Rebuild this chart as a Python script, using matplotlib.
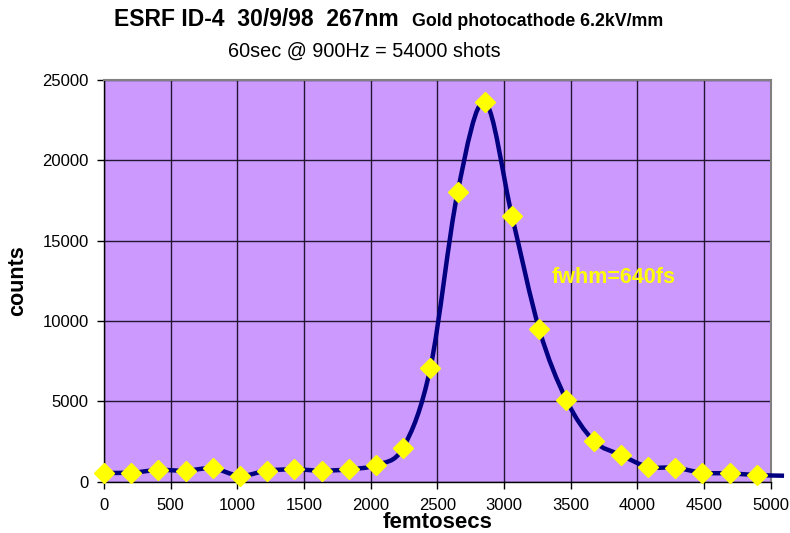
import numpy as np
import matplotlib.pyplot as plt
from matplotlib.path import Path
from matplotlib.patches import PathPatch

# dados
tempo_fs = [0, 204, 408, 612, 816, 1020, 1224, 1428, 1632, 1836, 2040, 2244,
            2448, 2652, 2856, 3060, 3264, 3468, 3672, 3876, 4080, 4284, 4488,
            4692, 4896]
contagens = [560, 560, 730, 690, 830, 370, 690, 770, 690, 770, 1040, 2120,
             7090, 18000, 23600, 16510, 9480, 5080, 2550, 1660, 930, 870, 560,
             520, 415]
# último ponto da curva (sem marcador, fora do eixo)
tempo_extra = [5100]
contagens_extra = [373]

x_ticks = [0, 500, 1000, 1500, 2000, 2500, 3000, 3500, 4000, 4500, 5000]
y_ticks = [0, 5000, 10000, 15000, 20000, 25000]

plt.rcParams['font.family'] = ['Liberation Sans', 'DejaVu Sans']


# curva suavizada estilo Excel (Bezier pelos pontos)
def caminho_suave(xs, ys, tensao=1 / 6):
    pts = np.column_stack([xs, ys]).astype(float)
    verts = [pts[0]]
    codes = [Path.MOVETO]
    n = len(pts)
    for i in range(n - 1):
        p0 = pts[i - 1] if i > 0 else pts[i]
        p1 = pts[i]
        p2 = pts[i + 1]
        p3 = pts[i + 2] if i + 2 < n else pts[i + 1]
        c1 = p1 + (p2 - p0) * tensao
        c2 = p2 - (p3 - p1) * tensao
        verts += [c1, c2, p2]
        codes += [Path.CURVE4] * 3
    return Path(verts, codes)


fig = plt.figure(figsize=(7.9, 5.33), dpi=100)
ax = fig.add_axes([0.1316, 0.0962, 0.8440, 0.7543])
ax.set_facecolor('#CC99FF')

ax.set_xlim(0, 5000)
ax.set_ylim(0, 25000)
ax.set_xticks(x_ticks)
ax.set_yticks(y_ticks)
ax.grid(True, color='#221633', linewidth=1.0)
ax.set_axisbelow(True)

xs = tempo_fs + tempo_extra
ys = contagens + contagens_extra
curva = PathPatch(caminho_suave(xs, ys), facecolor='none', edgecolor='#000080',
                  linewidth=3.2, transform=ax.transData, clip_on=False, zorder=3)
ax.add_patch(curva)

ax.plot(tempo_fs, contagens, linestyle='none', marker='D', markersize=10,
        color='#FFFF00', markeredgecolor='#FFFF00', zorder=4, clip_on=False)

ax.text(3360, 12730, 'fwhm=640fs', color='#FFFF00', fontsize=15.5,
        fontweight='bold', ha='left', va='center', zorder=5)

for lado in ['top', 'right']:
    ax.spines[lado].set_color('#808080')
    ax.spines[lado].set_linewidth(1.5)
for lado in ['left', 'bottom']:
    ax.spines[lado].set_color('black')
    ax.spines[lado].set_linewidth(1.0)

ax.tick_params(direction='out', length=5, width=1, labelsize=12, pad=6)
ax.tick_params(axis='x', pad=7)

ax.set_xlabel('femtosecs', fontsize=16, fontweight='bold', labelpad=-1)
ax.set_ylabel('counts', fontsize=15.5, fontweight='bold', labelpad=10)

fig.text(0.1443, 0.951, 'ESRF ID-4  30/9/98  267nm', fontsize=16.5,
         fontweight='bold', ha='left', va='baseline')
fig.text(0.5215, 0.951, 'Gold photocathode 6.2kV/mm', fontsize=12.8,
         fontweight='bold', ha='left', va='baseline')
fig.text(0.4608, 0.904, '60sec @ 900Hz = 54000 shots', fontsize=14.3,
         ha='center', va='center')

fig.savefig('out.png', dpi=100)
